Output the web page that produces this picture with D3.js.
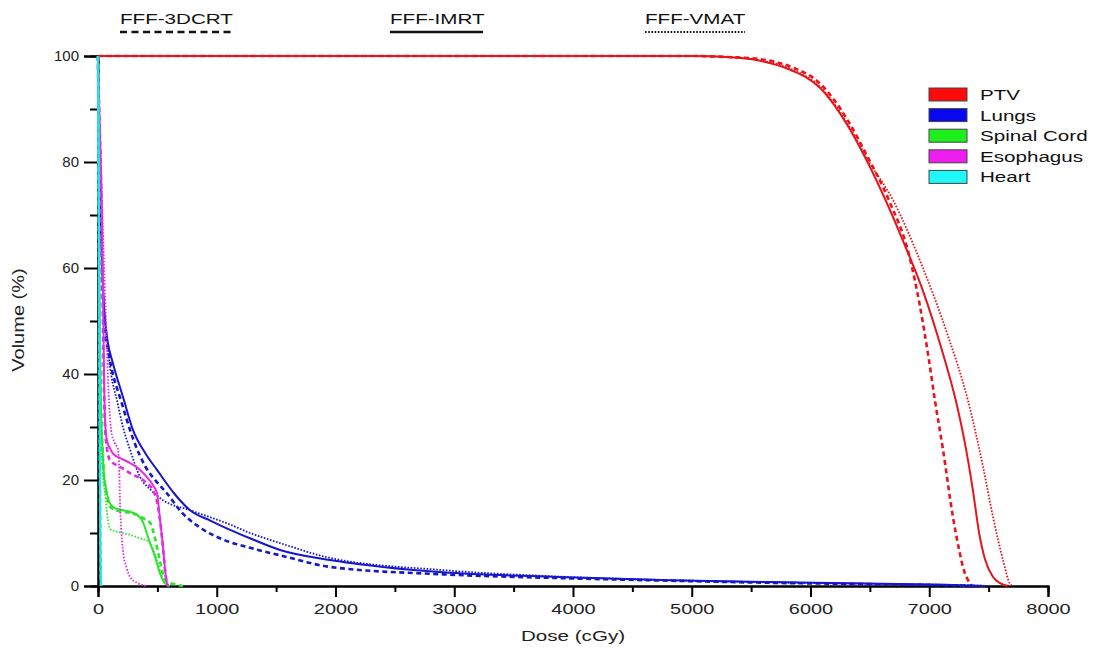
<!DOCTYPE html>
<html>
<head>
<meta charset="utf-8">
<script src="https://cdn.jsdelivr.net/npm/d3@7"></script>
<style>
body { margin: 0; background: #fff; }
text { font-family: "Liberation Sans", Arial, sans-serif; }
</style>
</head>
<body>
<svg id="dvh" width="1097" height="650"></svg>
<script>
// dose (cGy), volume (%) pairs
var ptv3dcrt = [[0,100],[5000,100],[5300,99.8],[5575,99.4],[5830,98],[6080,94.8],[6310,88],[6480,81],[6660,72.8],[6835,62],[6920,53],[6995,43],[7048,35],[7116,25.7],[7200,13],[7250,7],[7284,3.6],[7343,0.5],[7360,0]];
var ptvImrt = [[0,100],[5000,100],[5300,99.8],[5575,99.1],[5830,97.4],[6080,94],[6310,87],[6480,80],[6640,72.4],[6800,64],[6950,55.5],[7100,45],[7234,34],[7300,27],[7368,18],[7420,10],[7470,5],[7537,1.7],[7600,0.5],[7660,0]];
var ptvVmat = [[0,100],[5000,100],[5300,99.8],[5575,99.2],[5830,97.6],[6080,94.2],[6310,87.3],[6480,80.5],[6695,72.8],[6947,60],[7150,47.7],[7326,35],[7453,22.5],[7537,13],[7621,4.9],[7680,0.4],[7700,0]];

var lung3dcrt = [[0,100],[10,84],[25,66],[45,53],[65,47],[84,44.5],[110,41.5],[200,34.5],[300,27.5],[400,22.5],[500,19.5],[580,17.5],[700,14],[860,11],[1050,8.8],[1280,7.2],[1533,5.8],[1954,3.6],[2905,2.2],[3865,1.5],[4817,1],[5659,0.6],[6500,0.35],[7200,0.1],[7400,0]];
var lungImrt = [[0,100],[10,85],[25,68],[45,55],[65,49],[84,45.8],[126,42],[210,35.7],[295,29.4],[400,25],[497,21.9],[640,17.5],[775,14.3],[950,12.3],[1112,10.6],[1280,9],[1533,6.8],[1954,4.9],[2400,3.6],[2905,2.6],[3865,1.7],[4817,1.1],[5659,0.75],[6500,0.45],[7200,0.2],[7470,0]];
var lungVmat = [[0,100],[10,84],[25,68],[45,55],[75,46.4],[110,40],[160,35],[210,30],[270,25.7],[354,20.6],[450,18],[547,16.2],[775,14.3],[1112,11.6],[1280,10],[1533,8.1],[1954,5.3],[2905,3],[3865,1.8],[4817,1.1],[5659,0.7],[6500,0.4],[7200,0.2],[7500,0]];

var cord3dcrt = [[0,100],[5,80],[12,55],[20,40],[30,30],[40,25],[50,21],[60,19],[80,16.5],[100,15],[150,14.3],[210,14],[270,13.8],[330,13.4],[400,12.5],[440,11.9],[480,9],[520,4.9],[550,2],[580,0.8],[650,0.3],[715,0]];
var cordImrt = [[0,100],[5,80],[12,55],[20,40],[30,30],[40,25],[50,21],[60,19.4],[80,17],[100,15.6],[150,14.6],[210,14.3],[270,14],[330,13.4],[380,12],[410,10],[440,8],[470,6.2],[500,4],[520,2.5],[550,1],[580,0.2],[600,0]];
var cordVmat = [[0,100],[5,78],[12,52],[20,36],[30,26],[45,20],[60,17.5],[80,13],[100,10.8],[150,10.3],[210,10],[330,9.2],[440,8.1],[470,6.5],[505,4.3],[530,2.3],[550,1.1],[580,0.3],[620,0]];

var eso3dcrt = [[0,100],[10,90],[25,77],[33,66],[42,50],[50,38],[60,30],[75,26],[100,23.8],[200,22.3],[270,21.3],[410,19.4],[470,17.8],[505,15],[530,11],[550,6.5],[565,3],[580,0.6],[590,0]];
var esoImrt = [[0,100],[10,90],[25,78],[35,67],[45,50],[52,38],[60,31],[75,27.5],[100,26],[126,25],[200,24],[270,23.2],[350,22],[410,20.6],[470,18.8],[497,17.5],[520,13],[535,10],[550,6.8],[565,3],[580,0.6],[590,0]];
var esoVmat = [[0,100],[10,90],[25,79],[40,68],[55,58],[75,45],[90,36],[110,29.5],[140,27],[170,25.7],[180,21],[185,16.2],[195,11],[210,6.8],[240,3.5],[270,1.7],[330,0.6],[410,0]];

var heart3dcrt = [[0,100],[5,86],[10,58],[15,28],[20,9],[26,0]];
var heartImrt = [[0,100],[5,84],[10,55],[15,25],[20,8],[25,0]];
var heartVmat = [[0,100],[5,82],[10,52],[15,22],[20,6],[24,0]];

var structures = ["PTV", "Lungs", "Spinal Cord", "Esophagus", "Heart"];
var techniques = ["FFF-3DCRT", "FFF-IMRT", "FFF-VMAT"];
var xTicks = [0, 1000, 2000, 3000, 4000, 5000, 6000, 7000, 8000];
var yTicks = [0, 20, 40, 60, 80, 100];

var colors = {"PTV": "#e8141c", "Lungs": "#1616cc", "Spinal Cord": "#2ee22e", "Esophagus": "#e22ee2", "Heart": "#22e6e6"};
var boxColors = {"PTV": "#ff0a0a", "Lungs": "#0808f0", "Spinal Cord": "#1ef01e", "Esophagus": "#ee1eee", "Heart": "#1ef8f8"};
var dashes = {"FFF-3DCRT": "5,3.5", "FFF-IMRT": null, "FFF-VMAT": "1.6,1.6"};
var widths = {"FFF-3DCRT": 2.6, "FFF-IMRT": 2, "FFF-VMAT": 1.8};

var curves = [
  {s: "PTV", t: "FFF-3DCRT", d: ptv3dcrt}, {s: "PTV", t: "FFF-VMAT", d: ptvVmat}, {s: "PTV", t: "FFF-IMRT", d: ptvImrt},
  {s: "Lungs", t: "FFF-3DCRT", d: lung3dcrt}, {s: "Lungs", t: "FFF-VMAT", d: lungVmat}, {s: "Lungs", t: "FFF-IMRT", d: lungImrt},
  {s: "Spinal Cord", t: "FFF-3DCRT", d: cord3dcrt}, {s: "Spinal Cord", t: "FFF-VMAT", d: cordVmat}, {s: "Spinal Cord", t: "FFF-IMRT", d: cordImrt},
  {s: "Esophagus", t: "FFF-3DCRT", d: eso3dcrt}, {s: "Esophagus", t: "FFF-VMAT", d: esoVmat}, {s: "Esophagus", t: "FFF-IMRT", d: esoImrt},
  {s: "Heart", t: "FFF-3DCRT", d: heart3dcrt}, {s: "Heart", t: "FFF-VMAT", d: heartVmat}, {s: "Heart", t: "FFF-IMRT", d: heartImrt}
];

var svg = d3.select("#dvh"),
    margin = {top: 56, right: 49, bottom: 64, left: 98},
    width = +svg.attr("width") - margin.left - margin.right,
    height = +svg.attr("height") - margin.top - margin.bottom,
    g = svg.append("g").attr("transform", "translate(" + margin.left + "," + margin.top + ")");

var sx = 1.33; // the figure's text is stretched horizontally

var x = d3.scaleLinear().domain([0, 8000]).range([0, width]);
var y = d3.scaleLinear().domain([0, 100]).range([height, 0]);

// minor ticks
g.append("g")
    .attr("transform", "translate(0," + height + ")")
    .call(d3.axisBottom(x).tickValues(d3.range(500, 8000, 1000)).tickSize(6).tickFormat(""))
    .call(styleAxis);
g.append("g")
    .call(d3.axisLeft(y).tickValues(d3.range(10, 100, 20)).tickSize(8).tickFormat(""))
    .call(styleAxis);

// major ticks
g.append("g")
    .attr("transform", "translate(0," + height + ")")
    .call(d3.axisBottom(x).tickValues(xTicks).tickSize(11).tickPadding(6).tickFormat(d3.format("d")))
    .call(styleAxis)
    .call(function(a) {
      a.selectAll(".tick text").attr("transform", "scale(" + sx + ",1)");
    });
g.append("g")
    .call(d3.axisLeft(y).tickValues(yTicks).tickSize(14).tickPadding(5))
    .call(styleAxis);

function styleAxis(a) {
  a.select(".domain").attr("stroke", "#000").attr("stroke-width", 2);
  a.selectAll(".tick line").attr("stroke", "#000").attr("stroke-width", 2);
  a.selectAll(".tick text").attr("fill", "#222").attr("font-size", 15)
    .attr("font-family", "Liberation Sans, Arial, sans-serif");
}

var line = d3.line()
    .x(function(d) { return x(d[0]); })
    .y(function(d) { return y(d[1]); })
    .curve(d3.curveMonotoneX);

g.selectAll("path.dvh")
    .data(curves)
  .enter().append("path")
    .attr("class", "dvh")
    .attr("fill", "none")
    .attr("stroke", function(c) { return colors[c.s]; })
    .attr("stroke-width", function(c) { return widths[c.t]; })
    .attr("stroke-dasharray", function(c) { return dashes[c.t]; })
    .attr("stroke-linejoin", "round")
    .attr("d", function(c) { return line(c.d); });

// axis titles
svg.append("text")
    .attr("transform", "translate(573,641) scale(" + sx + ",1)")
    .attr("text-anchor", "middle")
    .attr("font-size", 15.5)
    .attr("fill", "#222")
    .text("Dose (cGy)");
svg.append("text")
    .attr("transform", "translate(24,320) scale(0.8,1) rotate(-90)")
    .attr("text-anchor", "middle")
    .attr("font-size", 20)
    .attr("fill", "#222")
    .text("Volume (%)");

// technique legend across the top
var techX = {"FFF-3DCRT": [120, 232], "FFF-IMRT": [390, 483], "FFF-VMAT": [645, 745]};
var techLegend = svg.append("g");
techniques.forEach(function(t) {
  var p = techX[t];
  techLegend.append("text")
      .attr("transform", "translate(" + p[0] + ",24) scale(" + sx + ",1)")
      .attr("font-size", 15.5)
      .attr("fill", "#111")
      .text(t);
  techLegend.append("line")
      .attr("x1", p[0]).attr("x2", p[1])
      .attr("y1", 32).attr("y2", 32)
      .attr("stroke", "#111")
      .attr("stroke-width", t === "FFF-VMAT" ? 2 : 2.5)
      .attr("stroke-dasharray", t === "FFF-3DCRT" ? "7,4.5" : t === "FFF-VMAT" ? "1.6,1.6" : null);
});

// structure legend
var leg = svg.append("g").attr("transform", "translate(929,88)");
var row = leg.selectAll("g")
    .data(structures)
  .enter().append("g")
    .attr("transform", function(d, i) { return "translate(0," + (i * 20.6) + ")"; });
row.append("rect")
    .attr("width", 38).attr("height", 13)
    .attr("fill", function(d) { return boxColors[d]; })
    .attr("stroke", "#444").attr("stroke-width", 1);
row.append("text")
    .attr("transform", "translate(51,12) scale(" + sx + ",1)")
    .attr("font-size", 15.5)
    .attr("fill", "#111")
    .text(function(d) { return d; });
</script>
</body>
</html>
